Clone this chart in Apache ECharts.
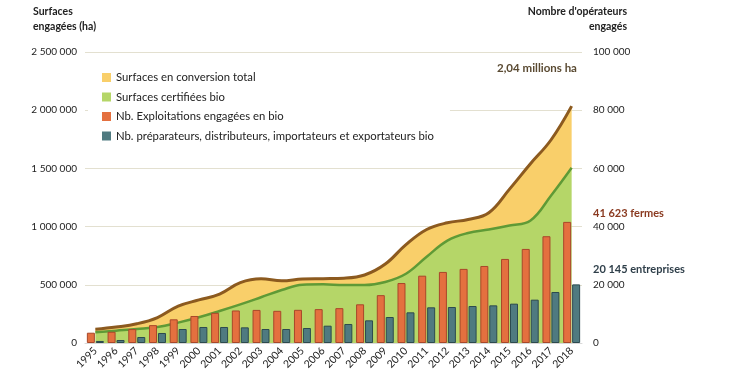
<!DOCTYPE html>
<html>
<head>
<meta charset="utf-8">
<script src="https://cdn.jsdelivr.net/npm/echarts@6/dist/echarts.min.js"></script>
<style>
html,body{margin:0;padding:0;background:#fff;}
#chart{width:730px;height:382px;}
</style>
</head>
<body>
<div id="chart"></div>
<script>
const years = ['1995','1996','1997','1998','1999','2000','2001','2002','2003','2004','2005','2006','2007','2008','2009','2010','2011','2012','2013','2014','2015','2016','2017','2018'];
// Surfaces certifiées bio (ha)
const certifiees = [92000,106000,120000,137000,175000,221000,275000,332000,393000,455000,501000,504000,498000,498000,524000,595000,741000,880000,945000,975000,1010000,1050000,1265000,1505000];
// Surfaces en conversion (ha), stacked above certified -> total
const conversion = [26000,31000,45000,82000,142000,149000,145000,186000,158000,79000,49000,49000,59000,86000,154000,250000,234000,153000,116000,144000,312000,488000,479000,530000];
// Nb. exploitations engagées en bio
const exploitations = [3538,3854,4784,6139,8140,9283,10364,11177,11377,11059,11402,11640,11978,13298,16446,20604,23135,24425,25467,26466,28884,32326,36691,41623];
// Nb. préparateurs, distributeurs, importateurs et exportateurs bio
const preparateurs = [700,1030,2060,3440,4810,5500,5500,5380,4810,4810,5150,5950,6530,7790,8930,10540,12260,12370,12710,12940,13520,14890,17530,20145];
const leftTicks = {min:0, max:2500000, interval:500000};
const rightTicks = {min:0, max:100000, interval:20000};
const seriesNames = ['Surfaces en conversion total','Surfaces certifiées bio','Nb. Exploitations engagées en bio','Nb. préparateurs, distributeurs, importateurs et exportateurs bio'];

const FONT = 'Lato';
const fmt = v => String(v).replace(/\B(?=(\d{3})+(?!\d))/g, ' ');

const chart = echarts.init(document.getElementById('chart'), null, {renderer:'canvas'});
chart.setOption({
  animation:false,
  textStyle:{fontFamily:FONT},
  grid:{left:85, right:148, top:52, bottom:39, containLabel:false},
  legend:{
    orient:'vertical', left:88, top:66,
    data:seriesNames,
    itemWidth:9, itemHeight:9, itemGap:8.5,
    icon:'rect',
    itemStyle:{borderWidth:0},
    backgroundColor:'#fff',
    padding:[6,16,6,14],
    textStyle:{fontFamily:FONT, fontSize:11.3, color:'#222'}
  },
  xAxis:{
    type:'category', data:years, boundaryGap:true,
    axisLine:{show:true, lineStyle:{color:'#d9d9d9'}},
    axisTick:{show:false},
    axisLabel:{rotate:45, fontSize:10.5, color:'#222', fontFamily:FONT, margin:6, interval:0}
  },
  yAxis:[
    {type:'value', min:leftTicks.min, max:leftTicks.max, interval:leftTicks.interval,
     axisLine:{show:false}, axisTick:{show:false},
     splitLine:{lineStyle:{color:'#e3e0d0', width:1}},
     axisLabel:{formatter:fmt, fontSize:10, color:'#222', fontFamily:FONT, margin:8}},
    {type:'value', min:rightTicks.min, max:rightTicks.max, interval:rightTicks.interval,
     axisLine:{show:false}, axisTick:{show:false}, splitLine:{show:false},
     axisLabel:{formatter:fmt, fontSize:10, color:'#222', fontFamily:FONT, margin:11}}
  ],
  series:[
    {name:seriesNames[1], type:'line', stack:'surf', data:certifiees, smooth:0.4, symbol:'none', z:3,
     itemStyle:{color:'#b5d668'},
     lineStyle:{color:'#5f9a36', width:2.5},
     areaStyle:{color:'#b5d668', opacity:1}},
    {name:seriesNames[0], type:'line', stack:'surf', data:conversion, smooth:0.4, symbol:'none', z:2,
     itemStyle:{color:'#f9cf6a'},
     lineStyle:{color:'#8c5a1f', width:3},
     areaStyle:{color:'#f9cf6a', opacity:1}},
    {name:seriesNames[2], type:'bar', yAxisIndex:1, data:exploitations, barWidth:8, barGap:'12%', z:4,
     itemStyle:{color:'#e4703f', borderColor:'#a9472a', borderWidth:1}},
    {name:seriesNames[3], type:'bar', yAxisIndex:1, data:preparateurs, barWidth:8, barGap:'12%', z:4,
     itemStyle:{color:'#4f7a80', borderColor:'#2c4a4f', borderWidth:1}}
  ],
  graphic:[
    {type:'text', x:33, y:4, style:{text:'Surfaces\nengagées (ha)', font:'bold 10.5px '+FONT, fill:'#222', lineHeight:15}},
    {type:'text', x:627, y:4, style:{text:"Nombre d'opérateurs\nengagés", font:'bold 10.5px '+FONT, fill:'#222', lineHeight:15, align:'right'}},
    {type:'text', x:497, y:62, style:{text:'2,04 millions ha', font:'bold 11.5px '+FONT, fill:'#5a4a32'}},
    {type:'text', x:593, y:208, style:{text:'41 623 fermes', font:'bold 11px '+FONT, fill:'#8a3a20'}},
    {type:'text', x:593, y:264, style:{text:'20 145 entreprises', font:'bold 11px '+FONT, fill:'#2f3f4a'}}
  ]
});
</script>
</body>
</html>
